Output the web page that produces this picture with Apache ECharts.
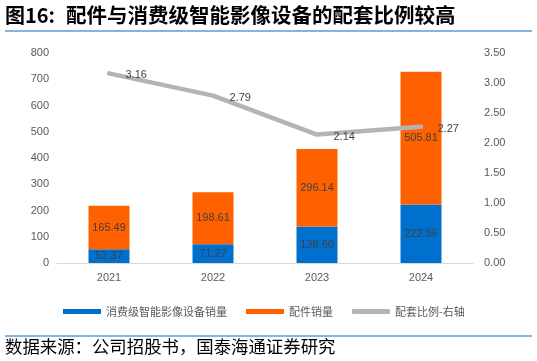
<!DOCTYPE html>
<html><head><meta charset="utf-8">
<style>html,body{margin:0;padding:0;background:#fff}#c{width:537px;height:361px}</style>
<script src="https://cdn.jsdelivr.net/npm/echarts@6/dist/echarts.min.js"></script>
</head><body><div id="c"></div>
<script>
var categories = ['2021', '2022', '2023', '2024'];
var deviceSales = [52.37, 71.27, 138.60, 222.96];
var accessorySales = [165.49, 198.61, 296.14, 505.81];
var ratio = [3.16, 2.79, 2.14, 2.27];
var leftTicks = [0, 800, 100];
var rightTicks = [0, 3.5, 0.5];

var chart = echarts.init(document.getElementById('c'));
var lblColor = '#404040';
var axColor = '#595959';
chart.setOption({
  animation: false,
  textStyle: { fontFamily: 'Liberation Sans, Arial, sans-serif' },
  graphic: [
    { type: 'text', left: 5, top: 5, style: { text: '图16:', fontSize: 20, fontWeight: 'bold', fill: '#000', fontFamily: 'Noto Sans CJK SC' } },
    { type: 'text', left: 66, top: 5, style: { text: '配件与消费级智能影像设备的配套比例较高', fontSize: 20.5, fontWeight: 'bold', fill: '#000', fontFamily: 'Noto Sans CJK SC' } },
    { type: 'line', shape: { x1: 5, y1: 31, x2: 532, y2: 31 }, style: { stroke: '#5B9BD5', lineWidth: 1.5 } },
    { type: 'line', shape: { x1: 5, y1: 336, x2: 532, y2: 336 }, style: { stroke: '#5B9BD5', lineWidth: 1.5 } },
    { type: 'text', left: 5, top: 338, style: { text: '数据来源：公司招股书，国泰海通证券研究', fontSize: 17.4, fill: '#000', fontFamily: 'Noto Sans CJK SC' } }
  ],
  grid: { left: 57, right: 64, top: 53, bottom: 98, containLabel: false },
  legend: {
    top: 301, left: 58, itemWidth: 38, itemHeight: 5, itemGap: 19,
    textStyle: { color: axColor, fontSize: 11, fontFamily: 'Noto Sans CJK SC' },
    data: [
      { name: '消费级智能影像设备销量', icon: 'rect' },
      { name: '配件销量', icon: 'rect' },
      { name: '配套比例-右轴', icon: 'roundRect' }
    ]
  },
  xAxis: {
    type: 'category', data: categories,
    axisLine: { lineStyle: { color: '#D9D9D9', width: 1 } },
    axisTick: { show: false },
    axisLabel: { color: axColor, fontSize: 11, margin: 9 }
  },
  yAxis: [
    { type: 'value', min: leftTicks[0], max: leftTicks[1], interval: leftTicks[2],
      splitLine: { show: false }, axisLine: { show: false }, axisTick: { show: false },
      axisLabel: { color: axColor, fontSize: 11, margin: 8 } },
    { type: 'value', min: rightTicks[0], max: rightTicks[1], interval: rightTicks[2],
      splitLine: { show: false }, axisLine: { show: false }, axisTick: { show: false },
      axisLabel: { color: axColor, fontSize: 11, margin: 11, formatter: function (v) { return v.toFixed(2); } } }
  ],
  series: [
    { name: '消费级智能影像设备销量', type: 'bar', stack: 's', data: deviceSales, barWidth: 41,
      itemStyle: { color: '#0070CE' },
      label: { show: true, position: 'inside', color: lblColor, fontSize: 11, formatter: function (p) { return p.value.toFixed(2); } } },
    { name: '配件销量', type: 'bar', stack: 's', data: accessorySales, barWidth: 41,
      itemStyle: { color: '#FF6000' },
      label: { show: true, position: 'inside', color: lblColor, fontSize: 11, formatter: function (p) { return p.value.toFixed(2); } } },
    { name: '配套比例-右轴', type: 'line', yAxisIndex: 1, data: ratio, symbol: 'circle', symbolSize: 1, showSymbol: true,
      lineStyle: { color: '#B4B4B4', width: 4.5, cap: 'round' }, itemStyle: { color: '#B4B4B4' },
      label: { show: true, position: 'right', distance: 16, offset: [0, 2], color: lblColor, fontSize: 11, formatter: function (p) { return p.value.toFixed(2); } } }
  ]
});
</script></body></html>
